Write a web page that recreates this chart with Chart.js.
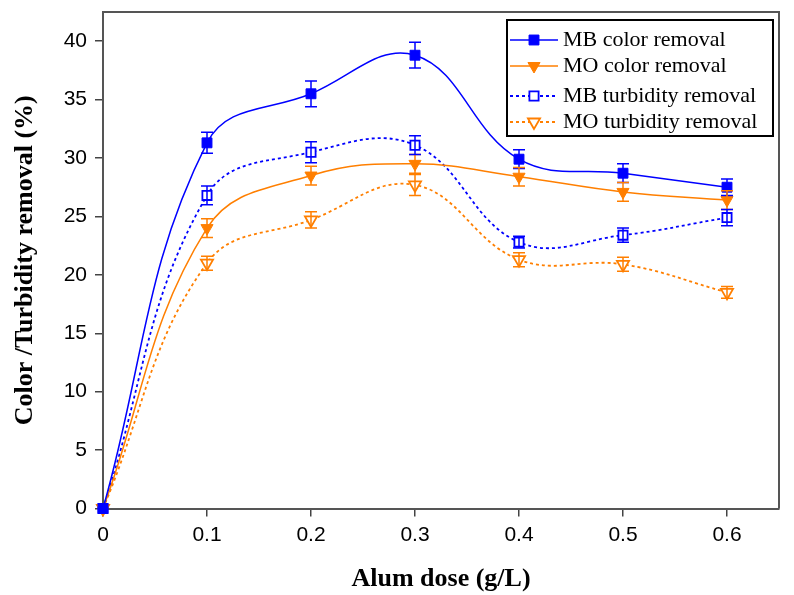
<!DOCTYPE html>
<html><head><meta charset="utf-8">
<script src="https://cdn.jsdelivr.net/npm/chart.js@4/dist/chart.umd.min.js"></script>
<style>html,body{margin:0;padding:0;background:#fff}#wrap{width:794px;height:595px}</style>
</head><body><div id="wrap"><canvas id="c" width="794" height="595"></canvas></div>
<script>
// ---- data ----
const doses = [0, 0.1, 0.2, 0.3, 0.4, 0.5, 0.6];
const mbColor = [0, 31.3, 35.5, 38.8, 29.9, 28.7, 27.5];
const moColor = [0, 24.0, 28.5, 29.5, 28.4, 27.1, 26.4];
const mbTurb  = [0, 26.8, 30.5, 31.1, 22.8, 23.4, 24.9];
const moTurb  = [0, 21.0, 24.7, 27.7, 21.3, 20.9, 18.5];
const mbColorErr = [0, 0.9, 1.1, 1.1, 0.8, 0.8, 0.7];
const moColorErr = [0, 0.8, 0.8, 0.8, 0.8, 0.8, 0.8];
const mbTurbErr  = [0, 0.8, 0.9, 0.8, 0.5, 0.6, 0.7];
const moTurbErr  = [0, 0.6, 0.7, 0.9, 0.6, 0.6, 0.5];
const seriesNames = ['MB color removal', 'MO color removal', 'MB turbidity removal', 'MO turbidity removal'];
const xTicks = [0, 0.1, 0.2, 0.3, 0.4, 0.5, 0.6];
const yTicks = [0, 5, 10, 15, 20, 25, 30, 35, 40];
const xTitle = 'Alum dose (g/L)';
const yTitle = 'Color /Turbidity removal (%)';

const BLUE = '#0000ff', ORANGE = '#ff7f00';
const pts = (ys) => doses.map((d, i) => ({x: d, y: ys[i]}));

const datasets = [
  {label: seriesNames[0], data: pts(mbColor), errors: mbColorErr, borderColor: BLUE, backgroundColor: BLUE,
   borderWidth: 1.5, pointStyle: 'rect', pointRadius: 7, pointBackgroundColor: BLUE, pointBorderColor: BLUE, pointBorderWidth: 1},
  {label: seriesNames[1], data: pts(moColor), errors: moColorErr, borderColor: ORANGE, backgroundColor: ORANGE,
   borderWidth: 1.5, pointStyle: 'triangle', rotation: 180, pointRotation: 180, pointRadius: 7, pointBackgroundColor: ORANGE, pointBorderColor: ORANGE, pointBorderWidth: 1},
  {label: seriesNames[2], data: pts(mbTurb), errors: mbTurbErr, borderColor: BLUE, backgroundColor: '#fff',
   borderWidth: 1.8, borderDash: [3, 3], pointStyle: 'rect', pointRadius: 6.5, pointBackgroundColor: '#fff', pointBorderColor: BLUE, pointBorderWidth: 1.8},
  {label: seriesNames[3], data: pts(moTurb), errors: moTurbErr, borderColor: ORANGE, backgroundColor: '#fff',
   borderWidth: 1.8, borderDash: [3, 3], pointStyle: 'triangle', rotation: 180, pointRotation: 180, pointRadius: 7, pointBackgroundColor: '#fff', pointBorderColor: ORANGE, pointBorderWidth: 1.8}
];
datasets.forEach(d => { d.tension = 0.4; d.clip = false; d.fill = false; });

const legendLayout = {rightInset: 6, topInset: 8, width: 266, height: 116, rowY: [20, 46, 76, 102], lineX0: 3, lineX1: 51, textX: 56};

const errorBars = {
  id: 'errorBars',
  afterDatasetsDraw(chart) {
    const ctx = chart.ctx, xs = chart.scales.x, ys = chart.scales.y;
    chart.data.datasets.forEach(ds => {
      ctx.save();
      ctx.strokeStyle = ds.borderColor; ctx.lineWidth = 1.5; ctx.setLineDash([]);
      ds.data.forEach((p, j) => {
        const e = ds.errors[j]; if (!e) return;
        const px = xs.getPixelForValue(p.x);
        const y1 = ys.getPixelForValue(p.y + e), y2 = ys.getPixelForValue(p.y - e);
        ctx.beginPath();
        ctx.moveTo(px, y1); ctx.lineTo(px, y2);
        ctx.moveTo(px - 6, y1); ctx.lineTo(px + 6, y1);
        ctx.moveTo(px - 6, y2); ctx.lineTo(px + 6, y2);
        ctx.stroke();
      });
      ctx.restore();
    });
  }
};

const frame = {
  id: 'frame',
  afterDraw(chart) {
    const {ctx, chartArea: a} = chart;
    ctx.save(); ctx.strokeStyle = '#555'; ctx.lineWidth = 2;
    ctx.beginPath(); ctx.moveTo(a.left, a.top); ctx.lineTo(a.right, a.top); ctx.lineTo(a.right, a.bottom); ctx.stroke();
    ctx.restore();
  }
};

const boxLegend = {
  id: 'boxLegend',
  afterDraw(chart) {
    const {ctx, chartArea: a} = chart; const L = legendLayout;
    const right = a.right - L.rightInset, left = right - L.width, top = a.top + L.topInset;
    ctx.save();
    ctx.fillStyle = '#fff'; ctx.fillRect(left, top, L.width, L.height);
    ctx.strokeStyle = '#000'; ctx.lineWidth = 2; ctx.strokeRect(left, top, L.width, L.height);
    chart.data.datasets.forEach((ds, i) => {
      const y = top + L.rowY[i];
      ctx.strokeStyle = ds.borderColor; ctx.lineWidth = ds.borderWidth; ctx.setLineDash(ds.borderDash || []);
      ctx.beginPath(); ctx.moveTo(left + L.lineX0, y); ctx.lineTo(left + L.lineX1, y); ctx.stroke();
      ctx.setLineDash([]);
      ctx.fillStyle = ds.pointBackgroundColor; ctx.strokeStyle = ds.pointBorderColor; ctx.lineWidth = ds.pointBorderWidth;
      Chart.helpers.drawPoint(ctx, {pointStyle: ds.pointStyle, rotation: ds.pointRotation || 0, radius: ds.pointRadius, borderWidth: ds.pointBorderWidth}, left + (L.lineX0 + L.lineX1) / 2, y);
      ctx.fillStyle = '#000'; ctx.font = '22px "Liberation Serif", "Times New Roman", serif'; ctx.textBaseline = 'middle'; ctx.textAlign = 'left';
      ctx.fillText(ds.label, left + L.textX, y);
    });
    ctx.restore();
  }
};

new Chart(document.getElementById('c'), {
  type: 'line',
  data: {datasets},
  options: {
    responsive: false, animation: false, devicePixelRatio: 1,
    layout: {padding: {top: 12, right: 15, left: 0, bottom: 0}},
    plugins: {legend: {display: false}, tooltip: {enabled: false}},
    scales: {
      x: {
        type: 'linear', min: 0, max: 0.65,
        afterBuildTicks: s => { s.ticks = xTicks.map(v => ({value: v})); },
        afterFit: s => { s.height = 86.5; s.paddingLeft = 0; s.paddingRight = 0; },
        grid: {drawOnChartArea: false, tickLength: 8, color: '#444', lineWidth: 1.5},
        border: {color: '#555', width: 2},
        ticks: {color: '#000', font: {family: '"Liberation Sans", Arial, sans-serif', size: 21}, padding: 6, maxRotation: 0,
                callback: v => String(v)},
        title: {display: true, text: xTitle, color: '#000', font: {family: '"Liberation Serif", "Times New Roman", serif', size: 26, weight: 'bold'}, padding: {top: 0, bottom: 0}}
      },
      y: {
        type: 'linear', min: 0, max: 42.5,
        afterBuildTicks: s => { s.ticks = yTicks.map(v => ({value: v})); },
        afterFit: s => { s.width = 103; s.paddingTop = 0; s.paddingBottom = 0; },
        grid: {drawOnChartArea: false, tickLength: 8, color: '#444', lineWidth: 1.5},
        border: {color: '#555', width: 2},
        ticks: {color: '#000', font: {family: '"Liberation Sans", Arial, sans-serif', size: 21}, padding: 8,
                callback: v => String(v)},
        title: {display: true, text: yTitle, color: '#000', font: {family: '"Liberation Serif", "Times New Roman", serif', size: 26, weight: 'bold'}, padding: {top: 10, bottom: 0}}
      }
    }
  },
  plugins: [errorBars, frame, boxLegend]
});
</script>
</body></html>
